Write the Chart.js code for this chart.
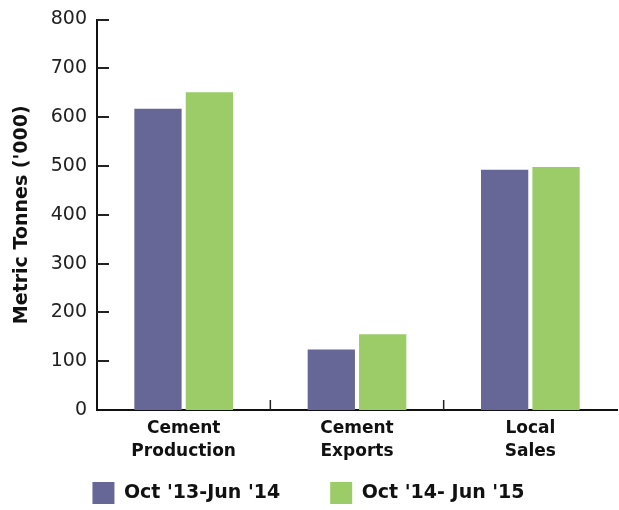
<!DOCTYPE html>
<html>
<head>
<meta charset="utf-8">
<script src="https://cdn.jsdelivr.net/npm/chart.js@4/dist/chart.umd.min.js"></script>
<style>
  html, body { margin: 0; padding: 0; background: #fff; }
  #wrap { width: 619px; height: 510px; }
</style>
</head>
<body>
<div id="wrap"><canvas id="cementChart" width="619" height="510"></canvas></div>
<script>
// 类别与数据
const categories = [['Cement', 'Production'], ['Cement', 'Exports'], ['Local', 'Sales']];
const seriesNames = ["Oct '13-Jun '14", "Oct '14- Jun '15"];
const values2014 = [617, 124, 492];
const values2015 = [651, 155, 498];
const yTicks = [0, 100, 200, 300, 400, 500, 600, 700, 800];

const FONT = "'DejaVu Sans', sans-serif";
const LEGEND_HEIGHT = 50;
const LEGEND_TOP = 432;

// 在坐标轴内侧画短刻度线
const innerTicks = {
    id: 'innerTicks',
    afterDraw(chart) {
        const ctx = chart.ctx;
        const x = chart.scales.x;
        const y = chart.scales.y;
        ctx.save();
        ctx.strokeStyle = '#222';
        ctx.lineWidth = 2;
        yTicks.forEach(v => {
            if (v === 0) return;
            const py = Math.round(y.getPixelForValue(v));
            ctx.beginPath();
            ctx.moveTo(chart.chartArea.left, py);
            ctx.lineTo(chart.chartArea.left + 12, py);
            ctx.stroke();
        });
        ctx.lineWidth = 1.5;
        for (let i = 1; i < categories.length; i++) {
            const px = (x.getPixelForValue(i - 1) + x.getPixelForValue(i)) / 2;
            ctx.beginPath();
            ctx.moveTo(px, chart.chartArea.bottom);
            ctx.lineTo(px, chart.chartArea.bottom - 10);
            ctx.stroke();
        }
        ctx.restore();
    }
};

// 图例的 padding 同时决定上下留白：固定高度，布局后再调整位置
const legendPlace = {
    id: 'legendPlace',
    beforeLayout(chart) {
        const lg = chart.legend;
        if (lg && !lg._fixedFit) {
            const fit = lg.fit;
            lg.fit = function () {
                fit.call(this);
                this.height = LEGEND_HEIGHT;
            };
            lg._fixedFit = true;
        }
    },
    afterLayout(chart) {
        const lg = chart.legend;
        if (lg) {
            lg.top = LEGEND_TOP;
            lg.bottom = chart.height;
            lg.height = chart.height - LEGEND_TOP;
        }
    }
};

const ctx = document.getElementById('cementChart').getContext('2d');
const chart = new Chart(ctx, {
    type: 'bar',
    data: {
        labels: categories,
        datasets: [
            {
                label: seriesNames[0],
                data: values2014,
                backgroundColor: '#676797',
                categoryPercentage: 0.593,
                barPercentage: 0.92
            },
            {
                label: seriesNames[1],
                data: values2015,
                backgroundColor: '#9bcc67',
                categoryPercentage: 0.593,
                barPercentage: 0.92
            }
        ]
    },
    options: {
        responsive: false,
        animation: false,
        layout: { padding: { top: 16, right: 2, left: 0, bottom: 0 } },
        scales: {
            x: {
                afterFit(scale) { scale.height = 50; },
                grid: { display: false, drawTicks: false },
                border: { color: '#111', width: 2 },
                ticks: {
                    color: '#111',
                    padding: 8,
                    font: { family: FONT, size: 17, weight: 'bold', lineHeight: 1.3 }
                }
            },
            y: {
                min: 0,
                max: 800,
                afterFit(scale) { scale.width = 97; },
                afterBuildTicks(scale) { scale.ticks = yTicks.map(v => ({ value: v })); },
                grid: { display: false, drawTicks: false },
                border: { color: '#111', width: 2 },
                ticks: {
                    color: '#222',
                    padding: 10,
                    font: { family: FONT, size: 19, lineHeight: 1 }
                },
                title: {
                    display: true,
                    text: "Metric Tonnes ('000)",
                    color: '#111',
                    padding: { top: 11, bottom: 0 },
                    font: { family: FONT, size: 19, weight: 'bold' }
                }
            }
        },
        plugins: {
            legend: {
                position: 'bottom',
                labels: {
                    color: '#111',
                    boxWidth: 22,
                    boxHeight: 22,
                    padding: 50,
                    font: { family: FONT, size: 19, weight: 'bold' }
                }
            },
            tooltip: { enabled: false }
        }
    },
    plugins: [innerTicks, legendPlace]
});
</script>
</body>
</html>
